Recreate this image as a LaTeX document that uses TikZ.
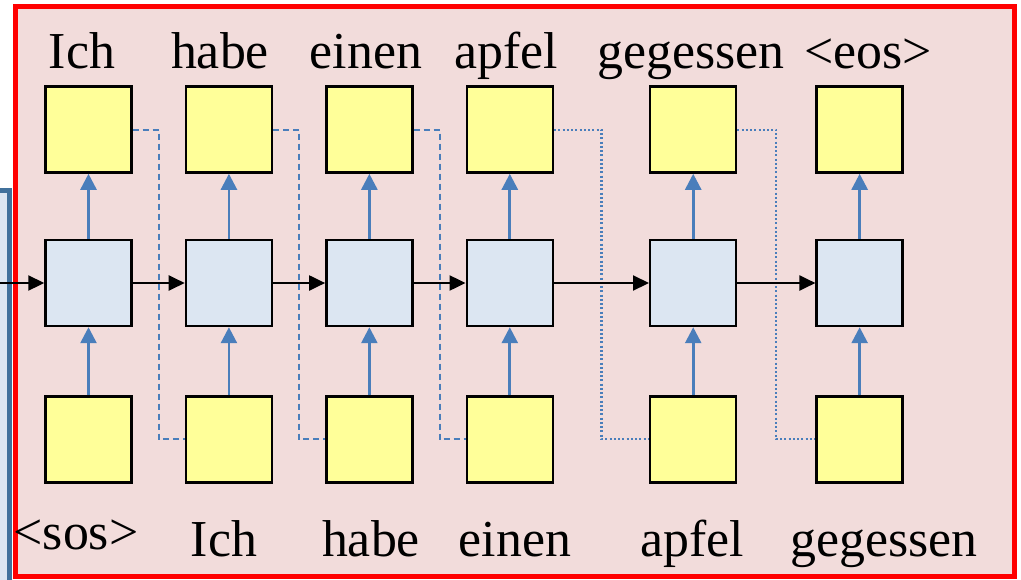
\documentclass[tikz,border=0pt]{standalone}
\usepackage{fontspec}
\setmainfont{Liberation Serif}
\usetikzlibrary{arrows.meta, positioning, calc}
\definecolor{boxpink}{RGB}{242,220,219}
\definecolor{wordyellow}{RGB}{255,255,153}
\definecolor{cellblue}{RGB}{220,230,242}
\definecolor{linkblue}{RGB}{74,126,187}
\definecolor{encblue}{RGB}{65,113,156}

\begin{document}
\begin{tikzpicture}[x=0.02cm, y=-0.02cm,
    word/.style={rectangle, draw=black, fill=wordyellow, minimum size=1.72cm, inner sep=0pt, line width=1.4pt},
    cell/.style={word, fill=cellblue},
    lbl/.style={font=\fontsize{29.5}{34}\selectfont, inner sep=0pt, anchor=base},
    flow/.style={-{Triangle[length=0.32cm, width=0.3cm]}, line width=1.2pt, black},
    feed/.style={-{Triangle[length=0.32cm, width=0.32cm]}, line width=1.5pt, linkblue},
    copyline/.style={linkblue, line width=1.1pt, dash pattern=on 0.12cm off 0.08cm},
    copydots/.style={linkblue, line width=1.2pt, dash pattern=on 0.04cm off 0.045cm}
]
\useasboundingbox (0,0) rectangle (1021,579);
\clip (0,0) rectangle (1021,579);
\fill[white] (0,0) rectangle (1021,579);

% encoder box, cut off at the left edge
\draw[encblue, fill=cellblue, line width=0.1cm] (-40,190.5) rectangle (9.5,640);
% decoder frame
\draw[red, fill=boxpink, line width=0.1cm] (15.5,6.5) rectangle (1014,576);

% hidden states
\node[cell] (h1) at (88.5,283) {};
\node[cell, right=1.04cm of h1] (h2) {};
\node[cell, right=1.04cm of h2] (h3) {};
\node[cell, right=1.04cm of h3] (h4) {};
\node[cell, right=1.9cm of h4] (h5) {};
\node[cell, right=1.56cm of h5] (h6) {};

% outputs above, inputs below
\foreach \i in {1,...,6} {
  \node[word, above=1.3cm of h\i] (o\i) {};
  \node[word, below=1.36cm of h\i] (i\i) {};
}

% output words
\node[lbl] (out1) at (82,68) {Ich};
\node[lbl] (out2) at (220,68) {habe};
\node[lbl] (out3) at (366,68) {einen};
\node[lbl] (out4) at (506,68) {apfel};
\node[lbl] (out5) at (691,68) {gegessen};
\node[lbl] (out6) at (868,68) {\textless eos\textgreater};

% input words
\node[lbl] (in1) at (76,549) {\textless sos\textgreater};
\node[lbl] (in2) at (224,556) {Ich};
\node[lbl] (in3) at (371,556) {habe};
\node[lbl] (in4) at (515,556) {einen};
\node[lbl] (in5) at (692,556) {apfel};
\node[lbl] (in6) at (884,556) {gegessen};

% output fed back as next input
\foreach \a/\b in {1/2, 2/3, 3/4}
  \draw[copyline] (o\a.east) -| ($(o\a.east)!0.5!(i\b.west)$) |- (i\b.west);
\foreach \a/\b in {4/5, 5/6}
  \draw[copydots] (o\a.east) -| ($(o\a.east)!0.5!(i\b.west)$) |- (i\b.west);

% recurrence
\coordinate (enc) at (-10,283);
\draw[flow] (enc) -- (h1);
\foreach \a/\b in {1/2, 2/3, 3/4, 4/5, 5/6}
  \draw[flow] (h\a) -- (h\b);

% input -> hidden -> output
\foreach \i in {1,...,6} {
  \draw[feed] (i\i) -- (h\i);
  \draw[feed] (h\i) -- (o\i);
}

\end{tikzpicture}
\end{document}
